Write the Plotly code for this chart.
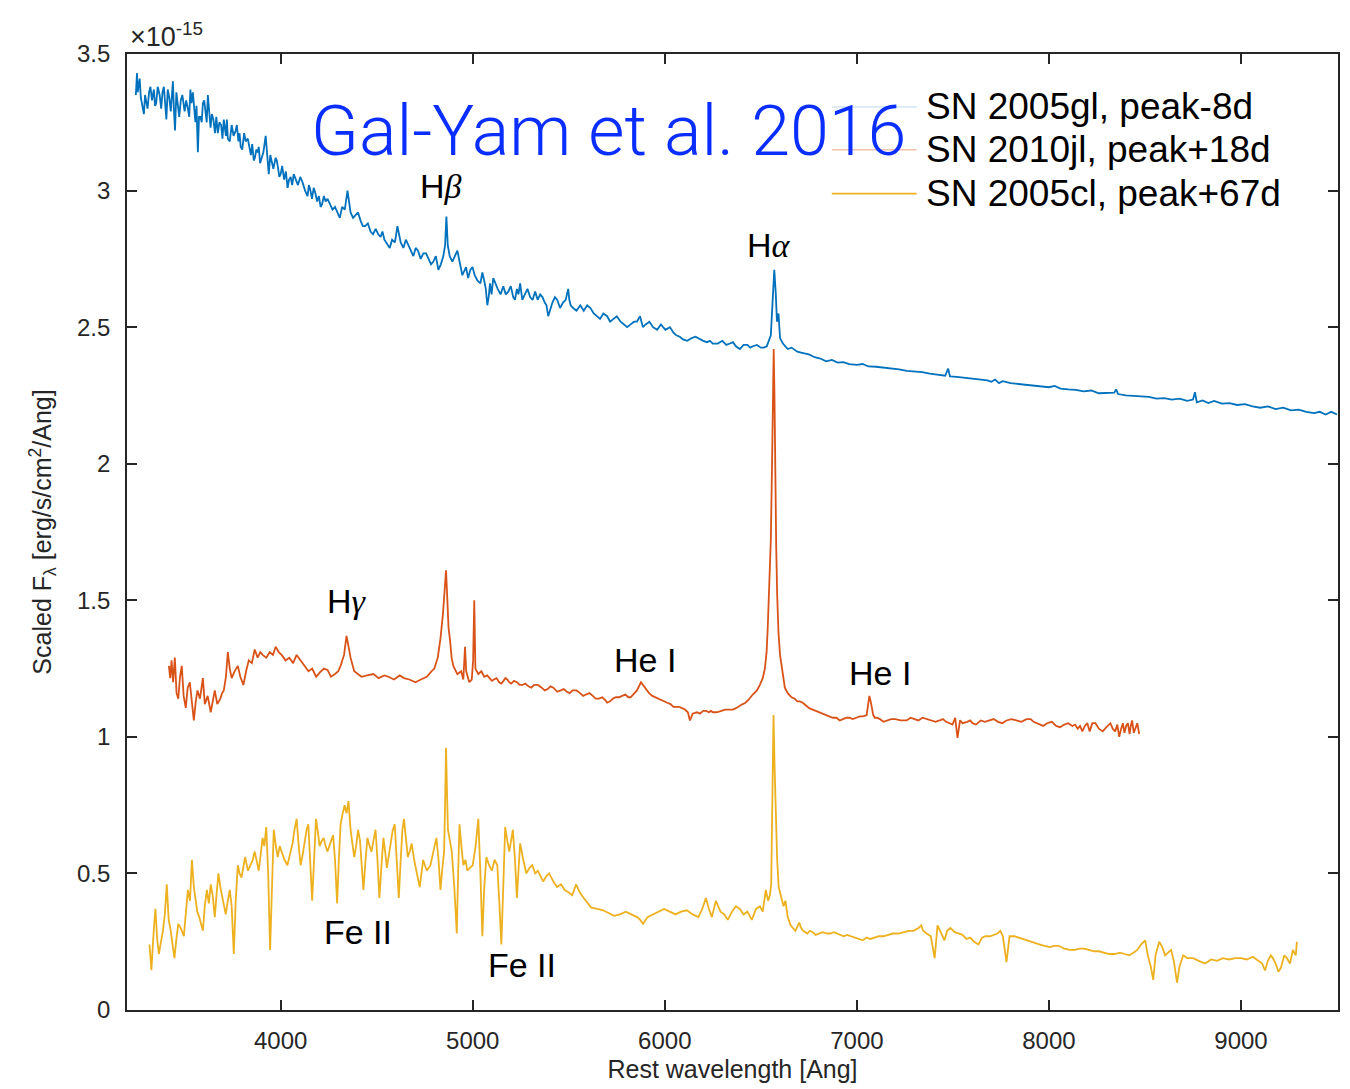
import plotly.graph_objects as go

# ---------------- data ----------------
gl_wl = [3246, 3252, 3260, 3272, 3288, 3300, 3315, 3340, 3352, 3370, 3392, 3405, 3420, 3439, 3450, 3465,
         3480, 3500, 3517, 3530, 3543, 3556, 3569, 3582, 3595, 3610, 3621, 3635, 3650, 3673, 3690, 3704,
         3715, 3725, 3745, 3766, 3780, 3792, 3810, 3829, 3845, 3860, 3873, 3886, 3900, 3922, 3938, 3955,
         3974, 3987, 4000, 4018, 4036, 4052, 4068, 4090, 4114, 4140, 4155, 4172, 4190, 4208, 4225, 4244,
         4270, 4296, 4320, 4348, 4364, 4390, 4416, 4440, 4468, 4495, 4520, 4540, 4556, 4580, 4608, 4625,
         4639, 4665, 4691, 4715, 4743, 4770, 4795, 4821, 4847, 4856, 4863, 4870, 4880, 4894, 4920, 4946,
         4965, 4988, 5010, 5040, 5060, 5076, 5090, 5107, 5130, 5159, 5185, 5211, 5230, 5247, 5270, 5299,
         5325, 5351, 5375, 5393, 5415, 5440, 5470, 5497, 5510, 5523, 5560, 5596, 5630, 5663, 5700, 5731,
         5770, 5804, 5840, 5871, 5900, 5939, 5980, 6027, 6060, 6095, 6140, 6183, 6220, 6250, 6300, 6339,
         6370, 6391, 6430, 6458, 6500, 6531, 6552, 6562, 6570, 6578, 6584, 6592, 6600, 6615, 6640, 6660,
         6690, 6720, 6750, 6780, 6810, 6840, 6870, 6900, 6930, 6960, 7000, 7030, 7060, 7100, 7140, 7180,
         7220, 7260, 7300, 7340, 7380, 7420, 7460, 7475, 7485, 7520, 7560, 7600, 7640, 7680, 7700, 7720,
         7740, 7760, 7800, 7840, 7880, 7920, 7960, 8000, 8030, 8060, 8100, 8140, 8180, 8220, 8260, 8300,
         8340, 8350, 8360, 8400, 8440, 8480, 8520, 8560, 8600, 8640, 8680, 8720, 8750, 8760, 8770, 8800,
         8830, 8860, 8900, 8940, 8980, 9020, 9060, 9100, 9140, 9180, 9220, 9260, 9300, 9340, 9380, 9410,
         9440, 9470, 9500]
gl_flux = [3.35, 3.43, 3.38, 3.34, 3.28, 3.33, 3.36, 3.37, 3.32, 3.35, 3.38, 3.26, 3.34, 3.40, 3.22, 3.31,
           3.33, 3.29, 3.30, 3.37, 3.36, 3.25, 3.14, 3.27, 3.32, 3.29, 3.35, 3.23, 3.26, 3.21, 3.24, 3.26,
           3.20, 3.19, 3.24, 3.22, 3.18, 3.16, 3.21, 3.19, 3.13, 3.11, 3.15, 3.16, 3.12, 3.20, 3.06, 3.10,
           3.12, 3.08, 3.06, 3.04, 3.01, 3.05, 3.06, 3.02, 3.03, 2.98, 3.00, 3.01, 2.96, 2.94, 2.98, 2.97,
           2.93, 2.92, 2.94, 3.00, 2.92, 2.91, 2.89, 2.87, 2.85, 2.86, 2.83, 2.82, 2.80, 2.82, 2.87, 2.81,
           2.79, 2.80, 2.76, 2.78, 2.77, 2.75, 2.74, 2.71, 2.76, 2.80, 2.905, 2.80, 2.76, 2.74, 2.78, 2.69,
           2.72, 2.71, 2.69, 2.66, 2.67, 2.58, 2.66, 2.68, 2.64, 2.65, 2.63, 2.61, 2.64, 2.66, 2.62, 2.61,
           2.63, 2.62, 2.59, 2.54, 2.59, 2.60, 2.59, 2.64, 2.58, 2.57, 2.58, 2.58, 2.55, 2.53, 2.54, 2.53,
           2.52, 2.50, 2.52, 2.54, 2.51, 2.50, 2.51, 2.50, 2.47, 2.455, 2.46, 2.455, 2.445, 2.44, 2.45, 2.44,
           2.43, 2.42, 2.435, 2.43, 2.425, 2.43, 2.47, 2.60, 2.71, 2.62, 2.52, 2.55, 2.46, 2.44, 2.42, 2.425,
           2.41, 2.405, 2.40, 2.39, 2.385, 2.375, 2.38, 2.37, 2.372, 2.365, 2.362, 2.365, 2.356, 2.355, 2.352, 2.348,
           2.345, 2.34, 2.338, 2.335, 2.33, 2.325, 2.322, 2.348, 2.32, 2.318, 2.315, 2.312, 2.31, 2.305, 2.30, 2.308,
           2.295, 2.302, 2.295, 2.292, 2.29, 2.288, 2.283, 2.28, 2.285, 2.275, 2.272, 2.27, 2.265, 2.268, 2.258, 2.26,
           2.26, 2.272, 2.255, 2.25, 2.248, 2.245, 2.245, 2.238, 2.24, 2.235, 2.238, 2.23, 2.235, 2.262, 2.225, 2.232,
           2.222, 2.23, 2.22, 2.222, 2.215, 2.218, 2.21, 2.205, 2.21, 2.20, 2.205, 2.195, 2.198, 2.19, 2.185, 2.19,
           2.18, 2.19, 2.18]
# extra samples of the same spectrum (noise between the points above)
gl_wl_extra = [3256, 3266, 3280, 3294, 3307, 3322, 3330, 3346, 3360, 3378, 3385, 3398, 3412, 3428, 3434, 3444,
               3457, 3472, 3488, 3508, 3524, 3536, 3549, 3562, 3575, 3589, 3602, 3615, 3628, 3642, 3658, 3665,
               3681, 3697, 3710, 3720, 3735, 3755, 3772, 3786, 3800, 3818, 3837, 3852, 3866, 3880, 3893, 3910,
               3930, 3946, 3962, 3980, 3993,
               4008, 4027, 4044, 4060, 4079, 4102, 4127, 4147, 4163, 4181, 4199, 4216, 4234, 4257, 4283, 4308,
               4334, 4356, 4377, 4403, 4428, 4454, 4481, 4508, 4530, 4568, 4595, 4652, 4678, 4703, 4729, 4757,
               4783, 4808, 4834, 4976, 4999, 5025, 5050, 5068, 5083, 5098, 5118, 5145, 5172, 5198, 5220, 5238,
               5258, 5285, 5312, 5338, 5363, 5384, 5404, 5428, 5455, 5484, 5503, 5540, 5578, 5613, 5646, 5680,
               5715, 5750, 5787, 5822, 5855, 5886, 5920, 5960, 6003, 6045, 6078, 6117, 6160, 6200, 6235, 6275,
               6320, 6355, 6380, 6410, 6445, 6480, 6515]
gl_flux_extra = [3.36, 3.41, 3.31, 3.35, 3.30, 3.38, 3.33, 3.31, 3.38, 3.30, 3.36, 3.33, 3.37, 3.29, 3.36, 3.30,
                 3.36, 3.27, 3.35, 3.33, 3.27, 3.32, 3.29, 3.31, 3.27, 3.25, 3.33, 3.25, 3.30, 3.28, 3.21, 3.27,
                 3.25, 3.19, 3.23, 3.26, 3.18, 3.20, 3.24, 3.21, 3.15, 3.18, 3.16, 3.17, 3.12, 3.14, 3.10, 3.14,
                 3.12, 3.13, 3.08, 3.11, 3.05,
                 3.09, 3.07, 3.04, 3.02, 3.04, 3.05, 3.00, 3.02, 2.97, 2.99, 2.98, 2.95, 2.96, 2.95, 2.94, 2.90,
                 2.93, 2.95, 2.90, 2.92, 2.87, 2.88, 2.84, 2.84, 2.85, 2.79, 2.81, 2.82, 2.78, 2.79, 2.75, 2.77,
                 2.73, 2.76, 2.73, 2.68, 2.72, 2.67, 2.70, 2.64, 2.61, 2.62, 2.66, 2.62, 2.62, 2.65, 2.60, 2.62,
                 2.60, 2.64, 2.60, 2.60, 2.61, 2.58, 2.57, 2.61, 2.57, 2.60, 2.60, 2.56, 2.56, 2.57, 2.54, 2.55,
                 2.52, 2.54, 2.51, 2.51, 2.52, 2.50, 2.52, 2.49, 2.49, 2.48, 2.465, 2.45, 2.465, 2.45, 2.45, 2.44,
                 2.435, 2.445, 2.425, 2.435, 2.425, 2.435, 2.425]

jl_wl = [3418, 3425, 3432, 3440, 3449, 3458, 3467, 3476, 3485, 3495, 3506, 3516, 3527, 3538, 3548, 3558,
         3567, 3580, 3595, 3605, 3620, 3636, 3647, 3657, 3670, 3686, 3695, 3704, 3715, 3725, 3735, 3745,
         3760, 3777, 3790, 3806, 3820, 3834, 3850, 3865, 3880, 3894, 3906, 3925, 3943, 3960, 3974, 3990,
         4005, 4025, 4045, 4065, 4083, 4105, 4125, 4145, 4164, 4185, 4203, 4225, 4244, 4262, 4283, 4300,
         4312, 4330, 4343, 4355, 4364, 4383, 4400, 4421, 4450, 4483, 4510, 4540, 4561, 4590, 4620, 4642,
         4670, 4702, 4730, 4761, 4785, 4800, 4818, 4832, 4845, 4855, 4861, 4868, 4874, 4881, 4890, 4899,
         4920, 4940, 4951, 4960, 4966, 4982, 4995, 5002, 5008, 5014, 5029, 5045, 5060, 5090, 5110, 5138,
         5160, 5180, 5200, 5230, 5258, 5290, 5320, 5359, 5390, 5420, 5458, 5490, 5520, 5559, 5590, 5625,
         5658, 5690, 5715, 5745, 5778, 5810, 5835, 5855, 5876, 5895, 5918, 5950, 5996, 6030, 6060, 6090,
         6120, 6131, 6145, 6167, 6200, 6230, 6251, 6290, 6339, 6370, 6406, 6435, 6458, 6480, 6495, 6510,
         6521, 6530, 6536, 6545, 6552, 6558, 6563, 6567, 6571, 6575, 6580, 6585, 6592, 6600, 6609, 6625,
         6640, 6651, 6675, 6703, 6735, 6770, 6805, 6843, 6875, 6911, 6945, 6978, 7015, 7051, 7065, 7072,
         7085, 7093, 7120, 7155, 7200, 7259, 7300, 7342, 7390, 7430, 7465, 7498, 7512, 7524, 7537, 7550,
         7575, 7602, 7645, 7690, 7735, 7779, 7830, 7883, 7920, 7950, 7990, 8038, 8080, 8122, 8150, 8174,
         8200, 8226, 8260, 8298, 8320, 8345, 8366, 8385, 8402, 8420, 8433, 8450, 8470]
jl_flux = [1.26, 1.215, 1.28, 1.20, 1.29, 1.16, 1.14, 1.22, 1.26, 1.15, 1.106, 1.18, 1.20, 1.12, 1.06, 1.13,
           1.17, 1.14, 1.215, 1.12, 1.15, 1.09, 1.13, 1.17, 1.12, 1.14, 1.16, 1.17, 1.22, 1.31, 1.25, 1.215,
           1.24, 1.26, 1.22, 1.19, 1.24, 1.28, 1.27, 1.32, 1.29, 1.31, 1.30, 1.29, 1.31, 1.30, 1.33, 1.31,
           1.30, 1.28, 1.29, 1.27, 1.30, 1.28, 1.26, 1.24, 1.25, 1.22, 1.235, 1.25, 1.245, 1.22, 1.23, 1.24,
           1.26, 1.30, 1.37, 1.33, 1.29, 1.24, 1.23, 1.22, 1.225, 1.23, 1.215, 1.225, 1.22, 1.21, 1.225, 1.215,
           1.21, 1.20, 1.21, 1.22, 1.24, 1.25, 1.29, 1.36, 1.45, 1.58, 1.61, 1.50, 1.40, 1.36, 1.29, 1.26,
           1.23, 1.24, 1.21, 1.33, 1.24, 1.20, 1.21, 1.28, 1.50, 1.25, 1.23, 1.24, 1.22, 1.215, 1.21, 1.20,
           1.205, 1.21, 1.195, 1.20, 1.19, 1.185, 1.19, 1.18, 1.175, 1.18, 1.17, 1.165, 1.17, 1.16, 1.155, 1.15,
           1.14, 1.135, 1.13, 1.145, 1.15, 1.145, 1.155, 1.17, 1.20, 1.18, 1.16, 1.145, 1.13, 1.12, 1.11, 1.105,
           1.09, 1.06, 1.085, 1.09, 1.095, 1.09, 1.09, 1.095, 1.10, 1.105, 1.12, 1.135, 1.155, 1.17, 1.19, 1.215,
           1.25, 1.31, 1.40, 1.55, 1.72, 1.98, 2.25, 2.42, 2.25, 1.95, 1.70, 1.52, 1.38, 1.30, 1.25, 1.18,
           1.16, 1.15, 1.14, 1.13, 1.115, 1.10, 1.09, 1.08, 1.07, 1.06, 1.07, 1.065, 1.075, 1.08, 1.15, 1.13,
           1.08, 1.07, 1.065, 1.06, 1.065, 1.06, 1.065, 1.07, 1.06, 1.06, 1.055, 1.045, 1.07, 0.996, 1.06, 1.05,
           1.055, 1.05, 1.06, 1.06, 1.055, 1.06, 1.06, 1.065, 1.055, 1.045, 1.05, 1.04, 1.045, 1.04, 1.03, 1.02,
           1.05, 1.05, 1.03, 1.035, 1.05, 1.02, 1.00, 1.05, 1.04, 1.01, 1.06, 1.03, 1.01]
jl_wl_extra = [5075, 5100, 5124, 5149, 5170, 5190, 5215, 5244, 5274, 5305, 5340, 5375, 5405, 5440, 5474, 5505,
               5540, 5575, 5608, 5640, 5675, 5700, 5730, 5762, 5795, 5822, 5935, 5975, 6013, 6045, 6075, 6105,
               6183, 6215, 6240, 6270, 6315, 6355, 6390, 6420, 6660, 6690, 6718, 6752, 6787, 6824, 6858, 6893,
               6928, 6962, 6997, 7033, 7105, 7138, 7178, 7228, 7280, 7320, 7366, 7410, 7448, 7480, 7590, 7620,
               7667, 7712, 7757, 7805, 7857, 7905, 7970, 8015, 8058, 8100, 8136, 8162, 8187, 8212, 8242, 8280,
               8310, 8332, 8356, 8376, 8393, 8411, 8426, 8442, 8460]
jl_flux_extra = [1.225, 1.205, 1.215, 1.195, 1.215, 1.20, 1.205, 1.19, 1.195, 1.18, 1.19, 1.17, 1.185, 1.165, 1.175, 1.16,
                 1.17, 1.15, 1.16, 1.14, 1.145, 1.125, 1.14, 1.145, 1.155, 1.145, 1.15, 1.135, 1.125, 1.11, 1.11, 1.10,
                 1.085, 1.095, 1.095, 1.09, 1.10, 1.10, 1.115, 1.125, 1.145, 1.13, 1.125, 1.105, 1.095, 1.085, 1.075, 1.07,
                 1.065, 1.07, 1.07, 1.075, 1.07, 1.055, 1.065, 1.06, 1.07, 1.06, 1.065, 1.055, 1.065, 1.05, 1.06, 1.045,
                 1.055, 1.065, 1.05, 1.065, 1.055, 1.065, 1.04, 1.055, 1.035, 1.05, 1.045, 1.04, 1.04, 1.02, 1.05, 1.02,
                 1.045, 1.03, 1.045, 1.03, 1.015, 1.05, 1.04, 1.015, 1.05]

cl_wl = [3317, 3327, 3340, 3348, 3357, 3366, 3377, 3387, 3397, 3407, 3417, 3428, 3437, 3447, 3457, 3467,
         3480, 3496, 3507, 3517, 3528, 3538, 3548, 3557, 3566, 3576, 3586, 3595, 3605, 3616, 3626, 3636,
         3646, 3657, 3667, 3676, 3686, 3696, 3705, 3714, 3725, 3735, 3745, 3756, 3766, 3777, 3786, 3796,
         3805, 3815, 3830, 3844, 3855, 3865, 3876, 3886, 3896, 3906, 3915, 3925, 3935, 3945, 3955, 3964,
         3975, 3985, 3995, 4005, 4020, 4035, 4048, 4062, 4072, 4083, 4094, 4104, 4115, 4125, 4135, 4144,
         4154, 4164, 4174, 4184, 4194, 4203, 4214, 4224, 4234, 4244, 4258, 4273, 4283, 4294, 4303, 4312,
         4323, 4333, 4343, 4353, 4364, 4374, 4383, 4393, 4403, 4413, 4422, 4431, 4442, 4452, 4463, 4473,
         4483, 4494, 4504, 4514, 4524, 4535, 4544, 4553, 4564, 4574, 4584, 4594, 4605, 4615, 4625, 4634,
         4642, 4652, 4662, 4672, 4682, 4695, 4710, 4724, 4733, 4742, 4751, 4761, 4770, 4780, 4795, 4811,
         4822, 4832, 4842, 4851, 4856, 4861, 4866, 4871, 4881, 4891, 4904, 4917, 4924, 4931, 4941, 4951,
         4962, 4972, 4986, 5000, 5015, 5029, 5040, 5050, 5060, 5071, 5085, 5100, 5114, 5128, 5138, 5149,
         5159, 5169, 5180, 5190, 5200, 5209, 5220, 5230, 5239, 5247, 5263, 5279, 5295, 5310, 5325, 5339,
         5353, 5367, 5383, 5398, 5420, 5439, 5460, 5478, 5500, 5518, 5538, 5558, 5578, 5598, 5617, 5648,
         5678, 5707, 5736, 5767, 5797, 5826, 5856, 5872, 5887, 5910, 5937, 5966, 5996, 6026, 6056, 6085,
         6115, 6145, 6175, 6195, 6214, 6230, 6245, 6266, 6290, 6310, 6328, 6350, 6370, 6391, 6410, 6430,
         6453, 6475, 6495, 6510, 6526, 6538, 6547, 6554, 6560, 6566, 6572, 6578, 6585, 6593, 6605, 6618,
         6628, 6640, 6655, 6680, 6700, 6720, 6742, 6770, 6800, 6845, 6880, 6915, 6949, 6990, 7031, 7070,
         7114, 7160, 7217, 7270, 7321, 7345, 7363, 7385, 7405, 7420, 7440, 7456, 7470, 7487, 7510, 7550,
         7590, 7633, 7670, 7716, 7747, 7760, 7779, 7795, 7820, 7860, 7903, 7950, 8005, 8050, 8109, 8160,
         8210, 8260, 8314, 8370, 8418, 8440, 8460, 8480, 8501, 8515, 8530, 8543, 8555, 8574, 8590, 8605,
         8620, 8636, 8650, 8667, 8680, 8699, 8720, 8751, 8780, 8813, 8845, 8875, 8905, 8938, 8970, 9000,
         9030, 9062, 9090, 9110, 9125, 9140, 9155, 9166, 9180, 9195, 9208, 9225, 9239, 9255, 9270, 9285,
         9291]
cl_flux = [0.24, 0.146, 0.30, 0.37, 0.26, 0.205, 0.25, 0.29, 0.35, 0.46, 0.33, 0.29, 0.24, 0.19, 0.26, 0.315,
           0.30, 0.27, 0.36, 0.44, 0.40, 0.55, 0.45, 0.40, 0.36, 0.34, 0.31, 0.29, 0.38, 0.44, 0.39, 0.46,
           0.42, 0.34, 0.43, 0.50, 0.45, 0.41, 0.38, 0.35, 0.40, 0.44, 0.38, 0.205, 0.40, 0.53, 0.50, 0.485,
           0.52, 0.56, 0.51, 0.53, 0.55, 0.58, 0.54, 0.51, 0.57, 0.63, 0.60, 0.67, 0.50, 0.22, 0.45, 0.66,
           0.60, 0.56, 0.60, 0.58, 0.55, 0.53, 0.57, 0.61, 0.66, 0.70, 0.60, 0.53, 0.57, 0.62, 0.66, 0.68,
           0.55, 0.40, 0.55, 0.70, 0.65, 0.60, 0.62, 0.63, 0.60, 0.58, 0.61, 0.64, 0.55, 0.39, 0.55, 0.68,
           0.72, 0.75, 0.72, 0.765, 0.66, 0.60, 0.56, 0.60, 0.66, 0.62, 0.52, 0.44, 0.55, 0.63, 0.60, 0.58,
           0.62, 0.66, 0.55, 0.41, 0.52, 0.63, 0.58, 0.52, 0.57, 0.62, 0.66, 0.68, 0.55, 0.41, 0.55, 0.66,
           0.70, 0.62, 0.56, 0.58, 0.61, 0.55, 0.50, 0.45, 0.50, 0.55, 0.53, 0.51, 0.52, 0.53, 0.58, 0.63,
           0.55, 0.44, 0.52, 0.58, 0.75, 0.96, 0.80, 0.66, 0.62, 0.58, 0.45, 0.28, 0.50, 0.68, 0.60, 0.53,
           0.55, 0.51, 0.52, 0.53, 0.60, 0.70, 0.50, 0.27, 0.45, 0.56, 0.53, 0.51, 0.55, 0.53, 0.40, 0.24,
           0.45, 0.67, 0.62, 0.58, 0.62, 0.66, 0.55, 0.41, 0.52, 0.61, 0.55, 0.50, 0.52, 0.53, 0.50, 0.51,
           0.49, 0.47, 0.49, 0.50, 0.47, 0.45, 0.46, 0.44, 0.43, 0.42, 0.46, 0.43, 0.41, 0.39, 0.375, 0.37,
           0.365, 0.355, 0.345, 0.35, 0.36, 0.35, 0.34, 0.33, 0.315, 0.34, 0.35, 0.36, 0.37, 0.36, 0.35, 0.36,
           0.365, 0.35, 0.34, 0.37, 0.41, 0.37, 0.34, 0.40, 0.36, 0.35, 0.33, 0.36, 0.38, 0.37, 0.35, 0.36,
           0.33, 0.37, 0.38, 0.36, 0.44, 0.40, 0.42, 0.46, 0.70, 1.08, 0.88, 0.70, 0.55, 0.45, 0.42, 0.38,
           0.40, 0.34, 0.31, 0.29, 0.32, 0.29, 0.28, 0.285, 0.28, 0.28, 0.285, 0.275, 0.275, 0.265, 0.255, 0.26,
           0.27, 0.275, 0.28, 0.29, 0.30, 0.29, 0.28, 0.27, 0.19, 0.31, 0.28, 0.255, 0.29, 0.30, 0.285, 0.275,
           0.265, 0.24, 0.27, 0.275, 0.29, 0.27, 0.175, 0.27, 0.27, 0.26, 0.25, 0.24, 0.23, 0.235, 0.22, 0.225,
           0.22, 0.215, 0.205, 0.21, 0.20, 0.21, 0.22, 0.24, 0.255, 0.20, 0.16, 0.11, 0.20, 0.25, 0.23, 0.20,
           0.21, 0.22, 0.18, 0.10, 0.16, 0.20, 0.19, 0.19, 0.18, 0.17, 0.185, 0.18, 0.19, 0.185, 0.19, 0.19,
           0.185, 0.195, 0.18, 0.17, 0.145, 0.18, 0.20, 0.19, 0.17, 0.14, 0.155, 0.20, 0.19, 0.17, 0.22, 0.20,
           0.25]
cl_wl_extra = [6710, 6730, 6755, 6785, 6822, 6862, 6897, 6932, 6970, 7010, 7050, 7092, 7137, 7188, 7243, 7295,
               7335, 7530, 7570, 7610, 7652, 7693, 7732, 7840, 7880, 7926, 7977, 8027, 8080, 8135, 8185, 8235,
               8287, 8342, 8394]
cl_flux_extra = [0.30, 0.285, 0.29, 0.275, 0.285, 0.28, 0.28, 0.27, 0.27, 0.26, 0.265, 0.265, 0.27, 0.28, 0.285, 0.29,
                 0.31, 0.28, 0.26, 0.25, 0.265, 0.27, 0.28, 0.265, 0.255, 0.245, 0.235, 0.235, 0.225, 0.22, 0.225, 0.215,
                 0.21, 0.205, 0.205]

series_names = ["SN 2005gl, peak-8d", "SN 2010jl, peak+18d", "SN 2005cl, peak+67d"]
series_colors = ["#0072BD", "#D95319", "#EDB120"]

line_labels = ["H<span style='font-family:Liberation Serif'><i>β</i></span>",
               "H<span style='font-family:Liberation Serif'><i>α</i></span>",
               "H<span style='font-family:Liberation Serif'><i>γ</i></span>",
               "He I", "He I", "Fe II", "Fe II"]
line_label_wl = [4837, 6542, 4343, 5897, 7119, 4405, 5258]
line_label_flux = [3.015, 2.80, 1.496, 1.281, 1.234, 0.285, 0.164]

x_ticks = [4000, 5000, 6000, 7000, 8000, 9000]
y_ticks = [0, 0.5, 1, 1.5, 2, 2.5, 3, 3.5]
y_ticktext = ["0", "0.5", "1", "1.5", "2", "2.5", "3", "3.5"]

FONT = "Liberation Sans, Arial, Helvetica, sans-serif"
AX = "#262626"


def merged(wl, fl, wl2, fl2):
    pairs = sorted(zip(list(wl) + list(wl2), list(fl) + list(fl2)))
    return [p[0] for p in pairs], [p[1] for p in pairs]


spectra = [merged(gl_wl, gl_flux, gl_wl_extra, gl_flux_extra),
           merged(jl_wl, jl_flux, jl_wl_extra, jl_flux_extra),
           merged(cl_wl, cl_flux, cl_wl_extra, cl_flux_extra)]

fig = go.Figure()
for (wl, fl), name, col in zip(spectra, series_names, series_colors):
    fig.add_trace(go.Scatter(x=wl, y=fl, mode="lines", name=name,
                             line=dict(color=col, width=1.8), showlegend=False))

# line identifications
for txt, xw, yf in zip(line_labels, line_label_wl, line_label_flux):
    fig.add_annotation(x=xw, y=yf, xref="x", yref="y", text=txt, showarrow=False,
                       font=dict(family=FONT, size=34, color="#000000"))

# custom legend (long line samples, as in the original)
legend_rows_y = [0.9447, 0.8999, 0.854]
legend_line_opacity = [0.15, 0.35, 1.0]
for name, col, yy, op in zip(series_names, series_colors, legend_rows_y, legend_line_opacity):
    fig.add_shape(type="line", xref="paper", yref="paper", x0=0.582, x1=0.652, y0=yy, y1=yy,
                  line=dict(color=col, width=1.6), opacity=op)
    fig.add_annotation(x=0.658, y=yy, xref="paper", yref="paper", text=name, showarrow=False,
                       xanchor="left", yanchor="middle",
                       font=dict(family=FONT, size=37, color="#000000"))

# exponent label
fig.add_annotation(x=0.0, y=1.0, xref="paper", yref="paper", xanchor="left", yanchor="bottom",
                   xshift=1, yshift=0, text="×10<sup>-15</sup>", showarrow=False,
                   font=dict(family=FONT, size=27, color=AX))

# citation text
fig.add_annotation(x=0.398, y=0.919, xref="paper", yref="paper", text="Gal-Yam et al. 2016",
                   showarrow=False, xanchor="center", yanchor="middle",
                   font=dict(family="Roboto, Liberation Sans, sans-serif", size=70, weight=300,
                             color="#0A2EFF"))

fig.update_layout(
    width=1350, height=1089,
    margin=dict(l=127, r=10, t=54, b=76),
    paper_bgcolor="white", plot_bgcolor="white",
    font=dict(family=FONT, color=AX),
    showlegend=False,
)
fig.update_xaxes(range=[3200, 9505], tickvals=x_ticks, ticks="inside", ticklen=10, tickwidth=1.5,
                 tickcolor=AX, showline=True, linecolor=AX, linewidth=1.8, mirror="ticks",
                 showgrid=False, zeroline=False, tickfont=dict(size=24, color=AX),
                 ticklabelstandoff=8,
                 title=dict(text="Rest wavelength [Ang]", font=dict(size=25, color=AX), standoff=8))
fig.update_yaxes(range=[0, 3.5], tickvals=y_ticks, ticktext=y_ticktext,
                 ticks="inside", ticklen=10, tickwidth=1.5,
                 tickcolor=AX, showline=True, linecolor=AX, linewidth=1.8, mirror="ticks",
                 showgrid=False, zeroline=False, tickfont=dict(size=24, color=AX),
                 ticklabelstandoff=10,
                 title=dict(text="Scaled F<sub>λ</sub> [erg/s/cm<sup>2</sup>/Ang]",
                            font=dict(size=25, color=AX), standoff=18))

fig.write_html("out.html")
